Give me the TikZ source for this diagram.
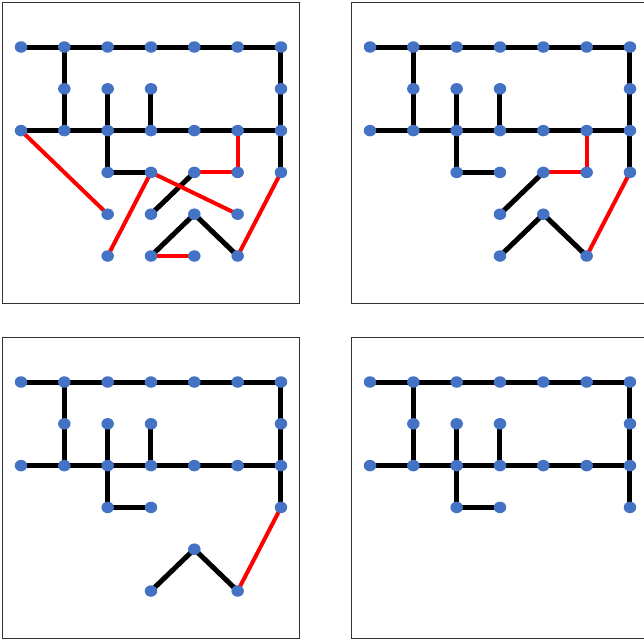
\documentclass[tikz,border=0pt]{standalone}
\usetikzlibrary{shapes.geometric}
\definecolor{nodeblue}{HTML}{4472C4}
\pgfdeclarelayer{background}
\pgfsetlayers{background,main}
\tikzset{
  vtx/.style={ellipse, fill=nodeblue, draw=none, minimum width=12.5pt, minimum height=11.5pt, inner sep=0pt},
  blk/.style={line width=5pt, black},
  redl/.style={line width=4pt, red},
  frm/.style={line width=1pt, black!80}
}
\newcommand\mkvtx[4]{\foreach \c/\r in {#4} {\node[vtx] (#1-\c-\r) at ({#2+21+43.33*\c},{#3+47+41.8*\r}) {};}}
\newcommand\mkcommon[3]{%
  \mkvtx{#1}{#2}{#3}{0/0,1/0,2/0,3/0,4/0,5/0,6/0,1/1,2/1,3/1,6/1,0/2,1/2,2/2,3/2,4/2,5/2,6/2,6/3}%
  \begin{pgfonlayer}{background}
    \foreach \a/\b in {0/1,1/2,2/3,3/4,4/5,5/6} {
      \draw[blk] (#1-\a-0.center) -- (#1-\b-0.center);
      \draw[blk] (#1-\a-2.center) -- (#1-\b-2.center);
    }
    \draw[blk] (#1-1-0.center) -- (#1-1-1.center) -- (#1-1-2.center);
    \draw[blk] (#1-2-1.center) -- (#1-2-2.center) -- (#1-2-3.center) -- (#1-3-3.center);
    \draw[blk] (#1-3-1.center) -- (#1-3-2.center);
    \draw[blk] (#1-6-0.center) -- (#1-6-1.center) -- (#1-6-2.center) -- (#1-6-3.center);
  \end{pgfonlayer}}
\begin{document}
\begin{tikzpicture}[x=1pt,y=-1pt]
\useasboundingbox (0,0) rectangle (644,641);
% frames
\draw[frm] (2.5,2.5) rectangle (299,303);
\draw[frm] (644,2.5) -- (351,2.5) -- (351,303) -- (644,303);
\draw[frm] (2.5,337.5) rectangle (299,638.5);
\draw[frm] (644,337.5) -- (351,337.5) -- (351,638.5) -- (644,638.5);

% Panel A (top-left)
\mkvtx{A}{0}{0}{2/3,3/3,4/3,5/3,2/4,3/4,4/4,5/4,2/5,3/5,4/5,5/5}
\mkcommon{A}{0}{0}
\begin{pgfonlayer}{background}
  \draw[blk] (A-4-3.center) -- (A-3-4.center);
  \draw[blk] (A-3-5.center) -- (A-4-4.center) -- (A-5-5.center);
  \draw[redl] (A-0-2.center) -- (A-2-4.center);
  \draw[redl] (A-3-3.center) -- (A-2-5.center);
  \draw[redl] (A-3-3.center) -- (A-5-4.center);
  \draw[redl] (A-4-3.center) -- (A-5-3.center) -- (A-5-2.center);
  \draw[redl] (A-6-3.center) -- (A-5-5.center);
  \draw[redl] (A-3-5.center) -- (A-4-5.center);
\end{pgfonlayer}

% Panel B (top-right)
\mkvtx{B}{349}{0}{2/3,3/3,4/3,5/3,3/4,4/4,3/5,5/5}
\mkcommon{B}{349}{0}
\begin{pgfonlayer}{background}
  \draw[blk] (B-4-3.center) -- (B-3-4.center);
  \draw[blk] (B-3-5.center) -- (B-4-4.center) -- (B-5-5.center);
  \draw[redl] (B-4-3.center) -- (B-5-3.center) -- (B-5-2.center);
  \draw[redl] (B-6-3.center) -- (B-5-5.center);
\end{pgfonlayer}

% Panel C (bottom-left)
\mkvtx{C}{0}{335}{2/3,3/3,4/4,3/5,5/5}
\mkcommon{C}{0}{335}
\begin{pgfonlayer}{background}
  \draw[blk] (C-3-5.center) -- (C-4-4.center) -- (C-5-5.center);
  \draw[redl] (C-6-3.center) -- (C-5-5.center);
\end{pgfonlayer}

% Panel D (bottom-right)
\mkvtx{D}{349}{335}{2/3,3/3}
\mkcommon{D}{349}{335}
\end{tikzpicture}
\end{document}
